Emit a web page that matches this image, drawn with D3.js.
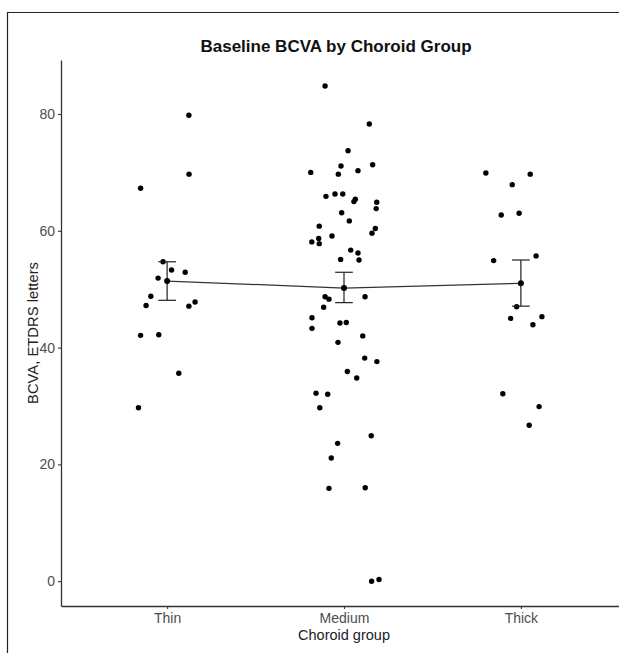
<!DOCTYPE html>
<html>
<head>
<meta charset="utf-8">
<script src="https://cdn.jsdelivr.net/npm/d3@7"></script>
<style>
    html, body { margin: 0; background: #fff; overflow: hidden; }
    svg { display: block; }
    text { font-family: "Liberation Sans", Arial, sans-serif; }
</style>
</head>
<body>
<div id="chart"></div>
<script>
// groups on the x axis
const groups = ["Thin", "Medium", "Thick"];

// BCVA values per group, with horizontal jitter in group units
const thinValues  = [79.8, 69.7, 67.3, 54.7, 53.3, 52.9, 51.9, 48.8, 47.2, 47.1, 47.8, 42.1, 42.2, 35.6, 29.7];
const thinJitter  = [0.123, 0.124, -0.150, -0.023, 0.025, 0.102, -0.051, -0.092, -0.119, 0.123, 0.158, -0.150, -0.047, 0.066, -0.162];

const mediumValues = [84.8, 78.3, 73.7, 71.1, 71.3, 70.0, 69.7, 70.3, 65.9, 66.3, 66.3, 65.4, 65.0, 64.9, 63.8, 63.1,
    61.7, 60.8, 60.4, 59.6, 58.7, 59.1, 58.1, 57.8, 56.7, 56.2, 55.1, 55.0, 48.7, 48.3, 48.7, 46.9, 45.1, 43.3, 44.2,
    44.3, 42.0, 40.9, 38.2, 37.6, 35.9, 34.8, 32.2, 32.0, 29.7, 24.9, 23.6, 21.1, 15.9, 16.0, 0.0, 0.3];
const mediumJitter = [-0.107, 0.143, 0.023, -0.017, 0.162, -0.188, -0.032, 0.079, -0.102, -0.051, -0.007, 0.064, 0.056, 0.185, 0.182, -0.013,
    0.030, -0.140, 0.177, 0.158, -0.143, -0.068, -0.182, -0.140, 0.038, 0.079, -0.019, 0.085, -0.107, -0.085, 0.119, -0.115, -0.181, -0.181, -0.023,
    0.013, 0.106, -0.034, 0.117, 0.186, 0.019, 0.072, -0.158, -0.092, -0.137, 0.154, -0.036, -0.072, -0.085, 0.120, 0.156, 0.198];

const thickValues = [69.9, 69.7, 67.9, 62.7, 63.0, 54.9, 55.7, 47.0, 45.0, 45.3, 43.9, 32.1, 29.9, 26.7];
const thickJitter = [-0.198, 0.053, -0.049, -0.111, -0.010, -0.154, 0.086, -0.024, -0.058, 0.119, 0.068, -0.102, 0.103, 0.047];

// mean and mean +/- SE per group
const groupMeans = [51.4, 50.2, 51.0];
const groupLower = [48.1, 47.7, 47.1];
const groupUpper = [54.7, 52.9, 55.0];

const yTicks = [0, 20, 40, 60, 80];

function draw() {
    const W = 619, H = 653;
    const margin = { top: 60, left: 61, bottom: 47 };

    const svg = d3.select("#chart")
        .html("")
        .append("svg")
        .attr("width", W)
        .attr("height", H);

    const x = d3.scaleLinear()
        .domain([0.4, 3.6])
        .range([margin.left, 627]);

    const y = d3.scaleLinear()
        .domain([-4.25, 89.25])
        .range([H - margin.bottom, margin.top]);

    // build point list from the named arrays
    const sets = [[thinValues, thinJitter], [mediumValues, mediumJitter], [thickValues, thickJitter]];
    let points = [];
    sets.forEach((s, i) => {
        s[0].forEach((v, j) => points.push({ g: i + 1, v: v, dx: s[1][j] }));
    });

    // y axis
    const yAxis = svg.append("g")
        .attr("transform", `translate(${margin.left},0)`)
        .call(d3.axisLeft(y).tickValues(yTicks).tickSize(3).tickSizeOuter(0).tickPadding(3));

    // x axis
    const xAxis = svg.append("g")
        .attr("transform", `translate(0,${H - margin.bottom})`)
        .call(d3.axisBottom(x).tickValues([1, 2, 3]).tickFormat(d => groups[d - 1])
            .tickSize(3).tickSizeOuter(0).tickPadding(4));

    [xAxis, yAxis].forEach(a => {
        a.select(".domain").attr("stroke", "#333").attr("stroke-width", 1.3);
        a.selectAll(".tick line").attr("stroke", "#333").attr("stroke-width", 1.1);
        a.selectAll(".tick text")
            .attr("fill", "#4d4d4d")
            .style("font-size", "14px")
            .style("font-family", "'Liberation Sans', Arial, sans-serif");
    });

    // axis titles
    svg.append("text")
        .attr("x", x(2))
        .attr("y", 640)
        .attr("text-anchor", "middle")
        .style("font-size", "14.5px")
        .attr("fill", "#222")
        .text("Choroid group");

    svg.append("text")
        .attr("transform", "rotate(-90)")
        .attr("x", -y(42.5))
        .attr("y", 38)
        .attr("text-anchor", "middle")
        .style("font-size", "14.8px")
        .attr("fill", "#222")
        .text("BCVA, ETDRS letters");

    // title
    svg.append("text")
        .attr("x", 336)
        .attr("y", 52)
        .attr("text-anchor", "middle")
        .style("font-size", "17px")
        .style("font-weight", "bold")
        .attr("fill", "#111")
        .text("Baseline BCVA by Choroid Group");

    // jittered points
    svg.append("g")
        .selectAll("circle")
        .data(points)
        .join("circle")
        .attr("cx", d => x(d.g + d.dx))
        .attr("cy", d => y(d.v))
        .attr("r", 2.7)
        .attr("fill", "#000");

    // line through means
    const summary = groups.map((g, i) => ({ g: i + 1, mean: groupMeans[i], lo: groupLower[i], hi: groupUpper[i] }));

    svg.append("path")
        .datum(summary)
        .attr("fill", "none")
        .attr("stroke", "#333")
        .attr("stroke-width", 1.2)
        .attr("d", d3.line().x(d => x(d.g)).y(d => y(d.mean)));

    // error bars
    const capHalf = 0.05;
    const eb = svg.append("g")
        .attr("stroke", "#222")
        .attr("stroke-width", 1.2);

    eb.selectAll(".stem")
        .data(summary)
        .join("line")
        .attr("x1", d => x(d.g))
        .attr("x2", d => x(d.g))
        .attr("y1", d => y(d.lo))
        .attr("y2", d => y(d.hi));

    eb.selectAll(".capTop")
        .data(summary)
        .join("line")
        .attr("x1", d => x(d.g - capHalf))
        .attr("x2", d => x(d.g + capHalf))
        .attr("y1", d => y(d.hi))
        .attr("y2", d => y(d.hi));

    eb.selectAll(".capBottom")
        .data(summary)
        .join("line")
        .attr("x1", d => x(d.g - capHalf))
        .attr("x2", d => x(d.g + capHalf))
        .attr("y1", d => y(d.lo))
        .attr("y2", d => y(d.lo));

    svg.append("g")
        .selectAll("circle")
        .data(summary)
        .join("circle")
        .attr("cx", d => x(d.g))
        .attr("cy", d => y(d.mean))
        .attr("r", 3)
        .attr("fill", "#000");

    // outer frame of the screenshot (only top and left edges show)
    svg.append("line")
        .attr("x1", 7.5).attr("x2", 7.5)
        .attr("y1", 12).attr("y2", H)
        .attr("stroke", "#222")
        .attr("stroke-width", 1.2);

    svg.append("line")
        .attr("x1", 7).attr("x2", W)
        .attr("y1", 12.5).attr("y2", 12.5)
        .attr("stroke", "#222")
        .attr("stroke-width", 1.2);
}

window.onload = draw;
</script>
</body>
</html>
